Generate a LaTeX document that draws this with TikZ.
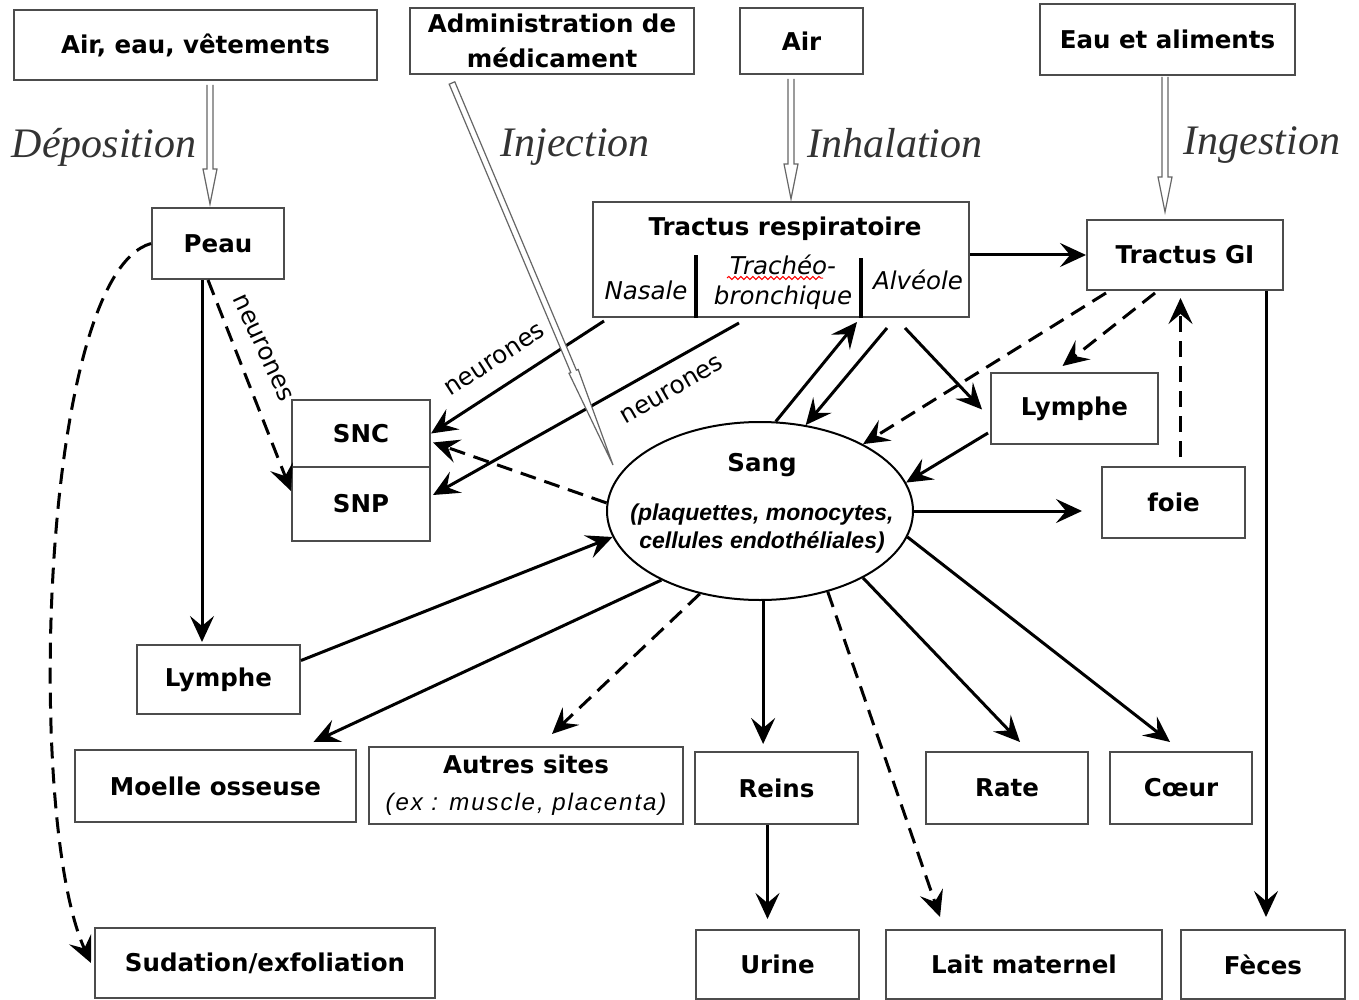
\documentclass[tikz,border=0pt]{standalone}
\usepackage{fontspec}
\usetikzlibrary{arrows.meta,calc,shapes.geometric,decorations.pathmorphing}
\newfontfamily\bxfont{DejaVu Sans}
\newfontfamily\lsfont{Liberation Sans}
\newfontfamily\lsxfont{Liberation Sans}[LetterSpace=8]
\newfontfamily\sefont{Liberation Serif}
\newfontfamily\nefont{DejaVu Sans}
\newcommand\hollowarrow[2]{%
  \draw[hollow] ($(#1)+(-3,0)$) -- ($(#2)+(-3,-35)$) -- ($(#2)+(-7,-35)$) -- (#2)
    -- ($(#2)+(7,-35)$) -- ($(#2)+(3,-35)$) -- ($(#1)+(3,0)$);}
\begin{document}
\begin{tikzpicture}[x=0.5pt,y=-0.5pt,
  box/.style={draw=black!70, line width=1pt, fill=white, inner sep=0pt, align=center,
    font=\bxfont\bfseries\fontsize{12.25}{17.5}\selectfont},
  bsz/.style 2 args={minimum width=#1*0.5pt, minimum height=#2*0.5pt},
  arr/.style={line width=1.5pt, -{Stealth[length=13pt,width=12pt,inset=5pt]}},
  dsh/.style={dash pattern=on 8pt off 4.5pt},
  hollow/.style={draw=black!60, line width=0.6pt, fill=white},
  lbl/.style={font=\sefont\itshape\fontsize{21}{24}\selectfont, text=black!80, inner sep=0pt},
  nlab/.style={font=\nefont\fontsize{12.3}{14}\selectfont, inner sep=0pt},
  sub/.style={font=\bxfont\itshape\fontsize{12.25}{15}\selectfont, inner sep=0pt},
  btxt/.style={font=\bxfont\bfseries\fontsize{12.25}{15}\selectfont, inner sep=0pt}
]
\useasboundingbox (0,0) rectangle (1359,1000);
\fill[white] (0,0) rectangle (1359,1000);

% ---------- boxes ----------
\node[box, bsz={363}{70}] (aev) at (195.5,45) {Air, eau, vêtements};
\node[box, bsz={284}{66}] (adm) at (552,41) {Administration de\\médicament};
\node[box, bsz={123}{66}] (air) at (801.5,41) {Air};
\node[box, bsz={255}{71}] (eau) at (1167.5,39.5) {Eau et aliments};
\node[box, bsz={132}{71}] (peau) at (218,243.5) {Peau};
\node[box, bsz={376}{115}] (tr) at (781,259.5) {};
\node[box, bsz={196}{70}] (gi) at (1185,255) {Tractus GI};
\node[box, bsz={138}{67}] (snc) at (361,433.5) {SNC};
\node[box, bsz={138}{74}] (snp) at (361,504) {SNP};
\node[box, bsz={167}{71}] (lymR) at (1074.5,408.5) {Lymphe};
\node[box, bsz={143}{71}] (foie) at (1173.5,502.5) {foie};
\node[box, bsz={163}{69}] (lymL) at (218.5,679.5) {Lymphe};
\node[box, bsz={281}{72}] (moelle) at (215.5,786) {Moelle osseuse};
\node[box, bsz={314}{77}] (autres) at (526,785.5) {Autres sites\\[1pt]{\lsxfont\mdseries\itshape\fontsize{12}{14}\selectfont (ex : muscle, placenta)}};
\node[box, bsz={163}{72}] (reins) at (776.5,788) {Reins};
\node[box, bsz={162}{72}] (rate) at (1007,788) {Rate};
\node[box, bsz={142}{72}] (coeur) at (1181,788) {Cœur};
\node[box, bsz={340}{70}] (sud) at (265,963) {Sudation/exfoliation};
\node[box, bsz={163}{69}] (urine) at (777.5,964.5) {Urine};
\node[box, bsz={276}{69}] (lait) at (1024,964.5) {Lait maternel};
\node[box, bsz={164}{69}] (feces) at (1263,964.5) {Fèces};

% Tractus respiratoire contents
\node[btxt] (trt) at (785,229) {Tractus respiratoire};
\node[sub] (nas) at (646,290) {Nasale};
\node[sub] (tra) at (783,265) {Trachéo-};
\node[sub] (bro) at (783,298) {bronchique};
\node[sub] (alv) at (918,280) {Alvéole};
\draw[line width=1.6pt] ($(tr.south west)+(104,0)$) -- ++(0,-63);
\draw[line width=1.6pt] ($(tr.south west)+(269,0)$) -- ++(0,-60);
\draw[red, line width=0.5pt, decorate, decoration={snake, amplitude=0.8pt, segment length=3pt}] (727,278) -- (823,278);

% Sang
\node[draw, ellipse, line width=1pt, fill=white, minimum width=306*0.5pt, minimum height=178*0.5pt, inner sep=0pt] (sang) at (760,511) {};
\node[btxt] (sangt) at (762,465) {Sang};
\node[font=\lsfont\bfseries\itshape\fontsize{11.5}{14}\selectfont, align=center, inner sep=0pt] (sangs) at (762,529) {(plaquettes, monocytes,\\cellules endothéliales)};

% ---------- italic route labels ----------
\node[lbl] (ldep) at (104,147) {Déposition};
\node[lbl] (linj) at (575,147) {Injection};
\node[lbl] (linh) at (895,143) {Inhalation};
\node[lbl] (ling) at (1262,145) {Ingestion};

% ---------- hollow arrows ----------
\coordinate (dA) at (210,0);
\coordinate (dB) at (791,0);
\coordinate (dC) at (1165,0);
\coordinate (tA) at ($(dA |- peau.north)+(0,-3)$);
\coordinate (tB) at ($(dB |- tr.north)+(0,-2)$);
\coordinate (tC) at ($(dC |- gi.north)+(0,-7)$);
\hollowarrow{$(dA |- aev.south)+(0,4)$}{tA}
\hollowarrow{$(dB |- air.south)+(0,4)$}{tB}
\hollowarrow{$(dC |- eau.south)+(0,1)$}{tC}

% ---------- connectors ----------
\draw[arr] (tr.east |- gi.west) -- (gi.west);
\coordinate (g1) at ($(gi.south east)+(-18,0)$);
\draw[arr, shorten >=6pt] (g1) -- (g1 |- feces.north);
\coordinate (p1) at ($(peau.south)+(-16,0)$);
\draw[arr, shorten >=1pt] (p1) -- (p1 |- lymL.north);
\draw[arr, dsh] ($(peau.south)+(-10,0)$) -- ($(snp.north west)+(0,25)$);
\node[nlab, rotate=-65] (n1) at (263,348) {neurones};
\draw[arr, dsh] (peau.west) .. controls (40,275) and (25,820) .. ($(sud.west)+(-3,0)$);
\draw[arr] ($(tr.south west)+(12,3)$) -- (snc.east);
\node[nlab, rotate=33] (n2) at (495,360) {neurones};
\draw[arr] ($(tr.south west)+(147,5)$) -- ($(snp.east)+(2,-9)$);
\node[nlab, rotate=30] (n3) at (672,390) {neurones};
\draw[arr, dsh] (sang.177) -- ($(snc.east)+(2,9)$);
\draw[arr] (sang.80) -- ($(tr.south west)+(265,4)$);
\draw[arr] ($(tr.south west)+(295,10)$) -- (sang.62);
\draw[arr] ($(tr.south west)+(313,10)$) -- ($(lymR.west)+(-8,1)$);
\draw[arr, dsh] ($(gi.south west)+(20,2)$) -- (sang.33);
\draw[arr, dsh] ($(gi.south)+(-30,2)$) -- ($(lymR.north)+(-12,-6)$);
\coordinate (f1) at ($(foie.north)+(7,-9)$);
\draw[arr, dsh, shorten >=3.5pt] (f1) -- (f1 |- gi.south);
\draw[arr] ($(lymR.south west)+(-2,-12)$) -- (sang.11);
\draw[arr, shorten >=9.5pt] (sang.east) -- (sang.east -| foie.west);
\draw[arr] ($(lymL.east)+(0,-19)$) -- (sang.190);
\draw[arr] (sang.215) -- ($(moelle.north)+(98,-7)$);
\draw[arr, dsh] (sang.234) -- ($(autres.north)+(26,-12)$);
\draw[arr, shorten >=3.5pt] (sang.272) -- (sang.272 |- reins.north);
\coordinate (r1) at ($(reins.south)+(-9,0)$);
\draw[arr, shorten >=5pt] (r1) -- (r1 |- urine.north);
\draw[arr, dsh] (sang.310) -- ($(lait.north)+(-84,-12)$);
\draw[arr] (sang.327) -- ($(rate.north)+(13,-9)$);
\draw[arr] (sang.350) -- ($(coeur.north)+(-11,-9)$);

% ---------- injection needle ----------
\draw[hollow] (454.8,81.8) -- (576.4,370.2) -- (578.2,369.5) -- (613,465) -- (569.0,373.3) -- (570.8,372.6) -- (449.2,84.2) -- cycle;
\end{tikzpicture}
\end{document}
